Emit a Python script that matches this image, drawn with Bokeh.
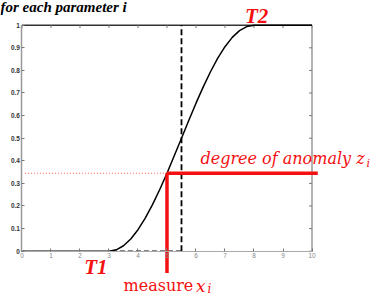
from bokeh.plotting import figure
from bokeh.models import LinearAxis, FixedTicker, Range1d, Label
from bokeh.embed import file_html
from bokeh.resources import INLINE

# ---- data ----
curve_x = [0, 3.0, 3.25, 3.5, 3.75, 4.0, 4.25, 4.5, 4.75, 5.0, 5.25, 5.5, 5.75,
           6.0, 6.25, 6.5, 6.75, 7.0, 7.25, 7.5, 7.75, 8.0, 10]
curve_y = [0, 0, 0.006, 0.024, 0.054, 0.095, 0.146, 0.206, 0.273, 0.345, 0.422,
           0.5, 0.578, 0.655, 0.727, 0.794, 0.854, 0.905, 0.946, 0.976, 0.994, 1.0, 1.0]
T1 = 3.1          # start of dashed base
T_mid = 5.5       # dashed vertical marker
measure_x = 5.0   # measured value x_i
anomaly_z = 0.345 # degree of anomaly z_i
x_ticks = [0, 1, 2, 3, 4, 5, 6, 7, 8, 9, 10]
y_ticks = [0, 0.1, 0.2, 0.3, 0.4, 0.5, 0.6, 0.7, 0.8, 0.9, 1]
y_tick_labels = ["0", "0.1", "0.2", "0.3", "0.4", "0.5", "0.6", "0.7", "0.8", "0.9", "1"]
x_tick_labels = [str(t) for t in x_ticks]

W, H = 376, 297
RED = "#f41010"

p = figure(width=W, height=H, x_range=Range1d(-0.741, 12.224),
           y_range=Range1d(-0.2049, 1.1093), output_backend="svg",
           toolbar_location=None, x_axis_type=None, y_axis_type=None,
           min_border=0, outline_line_color=None)
p.xgrid.visible = False
p.ygrid.visible = False

def style(ax, color, width):
    ax.axis_line_color = color
    ax.axis_line_width = width
    ax.major_tick_in = 3
    ax.major_tick_out = 0
    ax.major_tick_line_color = "#777777"
    ax.minor_tick_line_color = None
    ax.major_label_text_font_size = "6.5px"
    ax.major_label_text_color = "#333333"
    ax.major_label_text_font_style = "bold"
    ax.major_label_standoff = 2

xb = LinearAxis(fixed_location=0, bounds=(0, 10), ticker=FixedTicker(ticks=x_ticks),
                major_label_overrides={t: l for t, l in zip(x_ticks, x_tick_labels)})
style(xb, "#aaaaaa", 1)
xb.major_label_text_color = "#888888"
xb.major_label_text_font_style = "normal"
p.add_layout(xb, "below")

yl = LinearAxis(fixed_location=0, bounds=(0, 1), ticker=FixedTicker(ticks=y_ticks),
                major_label_overrides={t: l for t, l in zip(y_ticks, y_tick_labels)})
style(yl, "#999999", 1.5)
p.add_layout(yl, "left")

# top and right frame lines with inward ticks
p.line([x_ticks[0], x_ticks[-1]], [y_ticks[-1], y_ticks[-1]], line_color="#333333", line_width=1.6)
p.segment(x0=x_ticks, y0=[1] * len(x_ticks), x1=x_ticks, y1=[0.987] * len(x_ticks),
          line_color="#777777", line_width=1)
p.line([x_ticks[-1], x_ticks[-1]], [y_ticks[0], y_ticks[-1]], line_color="#999999", line_width=1.5)
p.segment(x0=[10] * len(y_ticks), y0=y_ticks, x1=[9.9] * len(y_ticks), y1=y_ticks,
          line_color="#777777", line_width=1)

# curve and dashed guides
p.line(curve_x, curve_y, line_color="black", line_width=1.5)
p.line([T1, T_mid], [0, 0], line_color="black", line_width=1.6, line_dash="5 3")
p.line([T_mid, T_mid], [0, 1], line_color="black", line_width=1.8, line_dash="6 3")

# red markers
p.line([0.1, measure_x], [anomaly_z, anomaly_z], line_color=RED, line_width=1,
       line_dash="1 2", line_alpha=0.7)
p.line([measure_x, measure_x], [anomaly_z, -0.097], line_color=RED, line_width=3.5)
p.line([measure_x, 10.2], [anomaly_z, anomaly_z], line_color=RED, line_width=3.5)

def lab(text, x, y, size, color, style="normal", font="DejaVu Serif",
        align="left", baseline="alphabetic"):
    p.add_layout(Label(x=x, y=y, text=text, text_font_size=size, text_color=color,
                       text_font_style=style, text_font=font, text_align=align,
                       text_baseline=baseline))

lab("for each parameter i", -0.741, 1.0827, "15px", "black", "bold italic",
    font="Liberation Serif")
lab("T2", 8.09, 1.041, "21px", RED, "bold italic", font="Liberation Serif", align="center")
lab("T1", 2.55, -0.068, "21px", RED, "bold italic", font="Liberation Serif", align="center")

lab("degree of anomaly z", 6.155, 0.41, "16px", RED, "italic")
lab("i", 11.88, 0.388, "11px", RED, "italic")

lab("measure", 3.5, -0.152, "16px", RED, "normal")
lab("x", 6.0, -0.152, "17px", RED, "italic")
lab("i", 6.4, -0.169, "12px", RED, "italic")

open("out.html", "w").write(file_html(p, INLINE))
